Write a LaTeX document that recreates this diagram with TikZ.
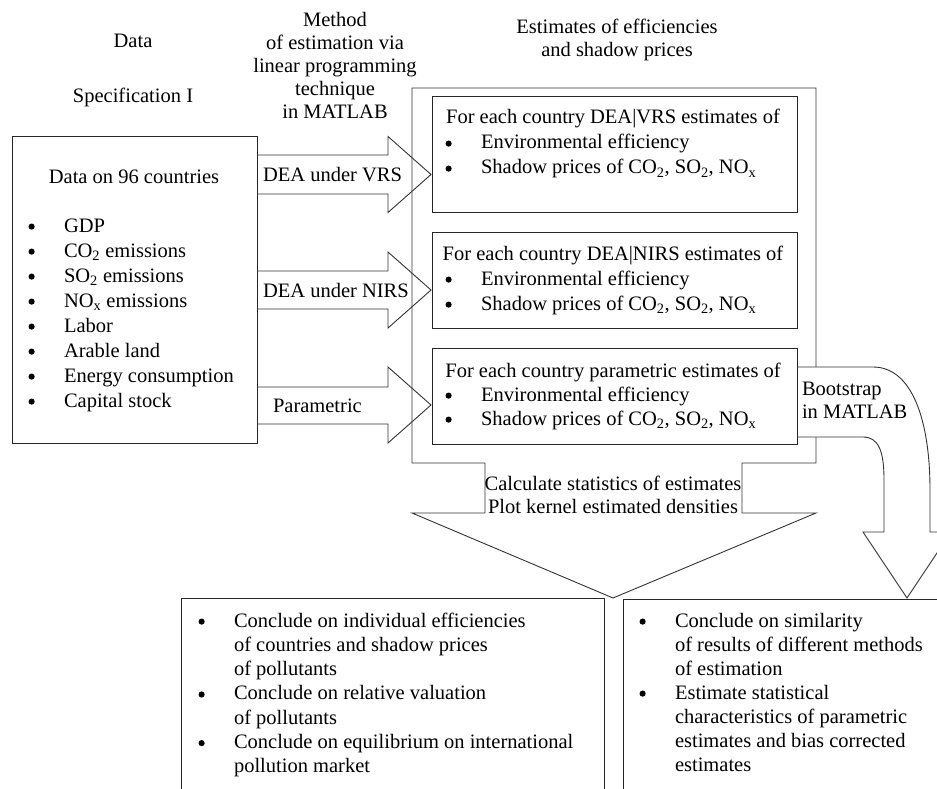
\documentclass[tikz,border=0pt]{standalone}
\usepackage{fontspec}
\setmainfont{Liberation Serif}
\newlength\bulletw
\setlength\bulletw{35.5pt}
% round list marker, drawn as a small filled disc
\newcommand\dotmark{\tikz[baseline=0pt]\fill[black] (3.5pt,5.4pt) circle (3.1pt);}
\newcommand\bitem[1]{\makebox[\bulletw][l]{\dotmark}#1}
\newcommand\citem[1]{\hspace*{\bulletw}#1}
\newcommand\stack[2]{\begin{tabular}[t]{@{}#1@{}}#2\end{tabular}}
\newcommand\fsz[1]{\fontsize{20.5pt}{#1pt}\selectfont}
\begin{document}
\begin{tikzpicture}[x=1pt,y=-1pt,
  line width=0.9pt,
  lbl/.style={inner sep=0pt,outer sep=0pt,font=\fsz{23}},
  lst/.style={inner sep=0pt,outer sep=0pt,font=\fsz{#1},anchor=base west},
  lst/.default=25,
  frame/.style={draw=black!85,line width=0.9pt,inner sep=0pt,outer sep=0pt,anchor=north west},
  shape line/.style={draw=black!80,line width=0.9pt,line join=miter}]
\useasboundingbox (0,0) rectangle (937,789);
\clip (0,0) rectangle (937,789);

% column headings
\node[lbl,anchor=base] (hdata) at (133,48) {Data};
\node[lbl,anchor=base] (hspec) at (133,103) {Specification I};
\node[lbl,anchor=base] (hmeth) at (335,27)
  {\stack{c}{Method\\of estimation via\\linear programming\\technique\\in MATLAB}};
\node[lbl,anchor=base] (hest) at (617,34)
  {\stack{c}{Estimates of efficiencies\\and shadow prices}};

% outer frame of the estimates, ending in a wide down arrow
\path[shape line] (412,88) -- (816,88) -- (816,463) -- (742,463) -- (742,513)
  -- (816,513) -- (613,598) -- (412,513) -- (485,513) -- (485,463)
  -- (412,463) -- cycle;

% bootstrap arrow bending down to the right-hand conclusions
\path[shape line,fill=white] (797,367) -- (873,367)
  .. controls (912,367) and (930,420) .. (930,490) -- (930,532) -- (951,532)
  -- (907,598) -- (863,532) -- (884,532) -- (884,480)
  .. controls (884,452) and (879,437) .. (863,437) -- (797,437);

% data box
\node[frame,minimum width=245pt,minimum height=307pt] (data) at (12,136) {};

% estimate boxes
\node[frame,minimum width=365pt,minimum height=116pt] (vrs) at (432,96) {};
\node[frame,minimum width=365pt,minimum height=96pt] (nirs) at (432,232) {};
\node[frame,minimum width=365pt,minimum height=96pt] (par) at (432,348) {};

% conclusion boxes
\node[frame,minimum width=423pt,minimum height=230pt] (concl1) at (181,598) {};
\node[frame,minimum width=340pt,minimum height=230pt] (concl2) at (623,599) {};

% method arrows from the data box to the estimate boxes
\path[shape line] (257,155) -- (388,155) -- (388,136.5) -- (431,174.5)
  -- (388,212.5) -- (388,194) -- (257,194);
\path[shape line] (257,271) -- (388,271) -- (388,252) -- (431,290)
  -- (388,328) -- (388,309) -- (257,309);
\path[shape line] (257,387) -- (388,387) -- (388,367) -- (431,405)
  -- (388,443) -- (388,424) -- (257,424);

% data box text
\node[lbl,anchor=base] (dtitle) at (134,183) {Data on 96 countries};
\node[lst] (dlist) at (28.5,232) {\stack{l}{%
  \bitem{GDP}\\
  \bitem{CO\textsubscript{2} emissions}\\
  \bitem{SO\textsubscript{2} emissions}\\
  \bitem{NO\textsubscript{x} emissions}\\
  \bitem{Labor}\\
  \bitem{Arable land}\\
  \bitem{Energy consumption}\\
  \bitem{Capital stock}}};

% method labels
\node[lbl,anchor=base west] (mvrs) at (263,182) {DEA under VRS};
\node[lbl,anchor=base west] (mnirs) at (263,297) {DEA under NIRS};
\node[lbl,anchor=base west] (mpar) at (273,412) {Parametric};

% estimate box text
\node[lbl,anchor=base] (tvrs) at (613,124) {For each country DEA|VRS estimates of};
\node[lst] (lvrs) at (445.5,149) {\stack{l}{%
  \bitem{Environmental efficiency}\\
  \bitem{Shadow prices of CO\textsubscript{2}, SO\textsubscript{2}, NO\textsubscript{x}}}};
\node[lbl,anchor=base] (tnirs) at (613,260) {For each country DEA|NIRS estimates of};
\node[lst] (lnirs) at (445.5,285) {\stack{l}{%
  \bitem{Environmental efficiency}\\
  \bitem{Shadow prices of CO\textsubscript{2}, SO\textsubscript{2}, NO\textsubscript{x}}}};
\node[lbl,anchor=base] (tpar) at (613,377) {For each country parametric estimates of};
\node[lst=24] (lpar) at (445.5,401) {\stack{l}{%
  \bitem{Environmental efficiency}\\
  \bitem{Shadow prices of CO\textsubscript{2}, SO\textsubscript{2}, NO\textsubscript{x}}}};

% bootstrap label
\node[lbl,anchor=base west] (boot) at (802,395) {\stack{l}{Bootstrap\\in MATLAB}};

% statistics label inside the down arrow
\node[lbl,anchor=base] (stats) at (613,490)
  {\stack{c}{Calculate statistics of estimates\\Plot kernel estimated densities}};

% conclusions
\node[lst=24.3] (c1list) at (198.5,627) {\stack{l}{%
  \bitem{Conclude on individual efficiencies}\\
  \citem{of countries and shadow prices}\\
  \citem{of pollutants}\\
  \bitem{Conclude on relative valuation}\\
  \citem{of pollutants}\\
  \bitem{Conclude on equilibrium on international}\\
  \citem{pollution market}}};
\node[lst=24] (c2list) at (639.5,627) {\stack{l}{%
  \bitem{Conclude on similarity}\\
  \citem{of results of different methods}\\
  \citem{of estimation}\\
  \bitem{Estimate statistical}\\
  \citem{characteristics of parametric}\\
  \citem{estimates and bias corrected}\\
  \citem{estimates}}};
\end{tikzpicture}
\end{document}
